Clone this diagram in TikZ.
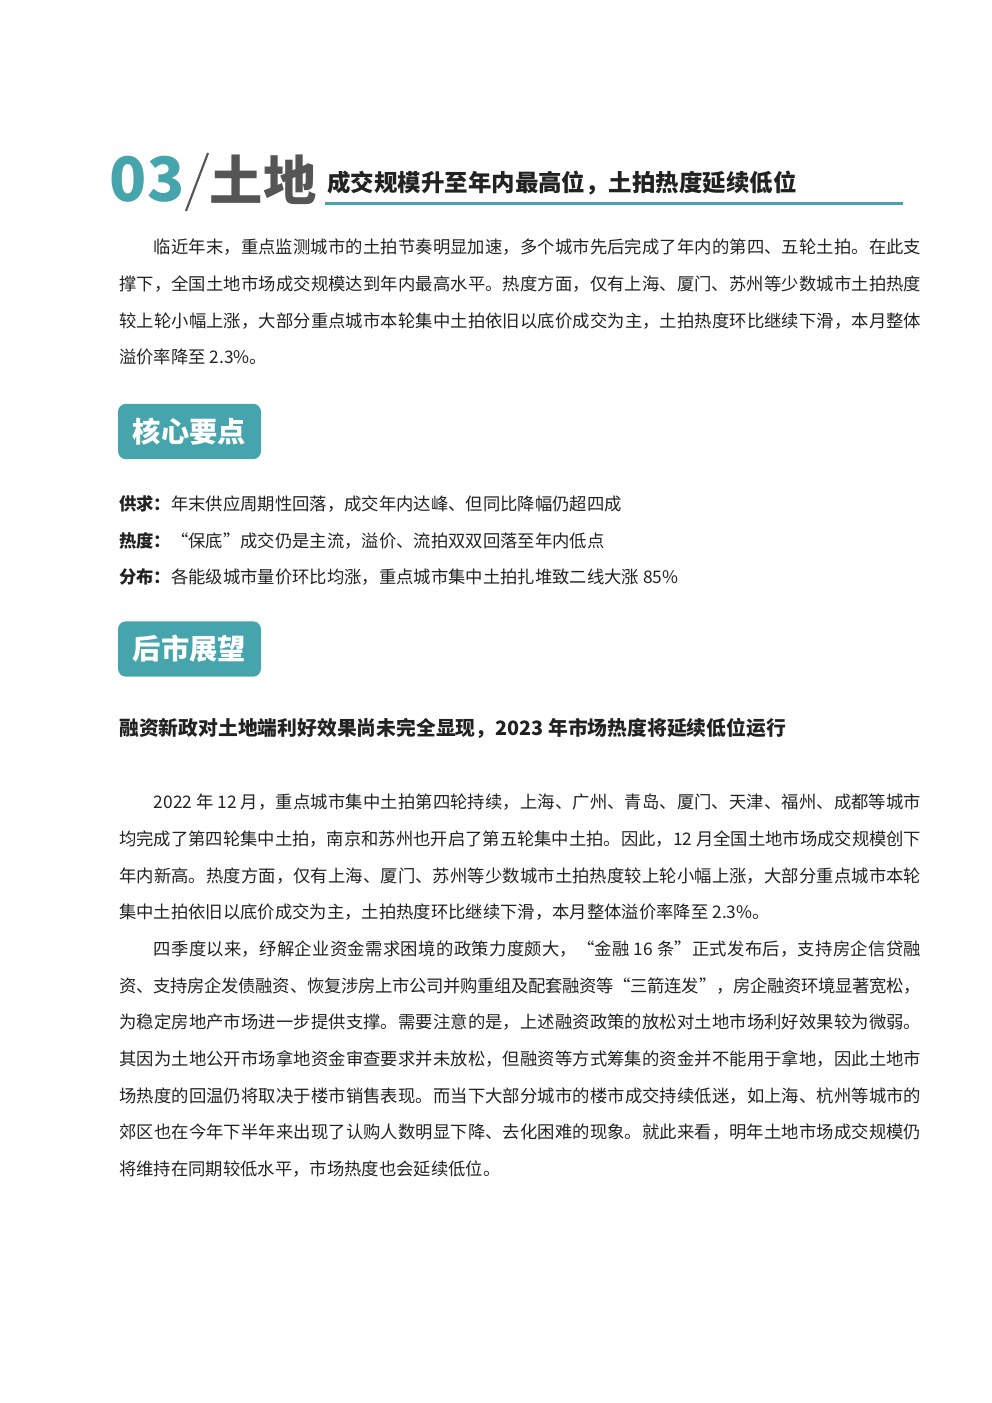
\documentclass[tikz,border=0pt]{standalone}
\usepackage{fontspec}
\setmainfont{Noto Sans CJK SC}
\XeTeXlinebreaklocale "zh"
\XeTeXlinebreakskip=0pt plus 2pt minus 0.3pt
\definecolor{tealmain}{HTML}{45A4AC}
\definecolor{grayhead}{HTML}{555555}
\definecolor{bodyink}{HTML}{222222}
\tikzset{
  para/.style={anchor=north west,inner sep=0pt,text width=601.5pt,align=justify,text=bodyink,
    font=\fontsize{13pt}{27.5pt}\selectfont},
  tag/.style={anchor=west,inner sep=0pt,text=bodyink,font=\fontsize{13pt}{16pt}\selectfont},
  badge/.style={fill=tealmain,rounded corners=6pt,minimum width=107.25pt,minimum height=41.5pt,
    inner sep=0pt,text=white,font=\fontsize{21.2pt}{24pt}\bfseries\selectfont},
}
\begin{document}
\begin{tikzpicture}[x=0.75pt,y=-0.75pt]
  \useasboundingbox (0,0) rectangle (992,1403);
  % title row
  \node [anchor=center,inner sep=0pt,text=tealmain,font=\fontsize{46pt}{46pt}\bfseries\selectfont] (num) at (147,179) {03};
  \coordinate (slasha) at (208,153);
  \coordinate (slashb) at (186,211);
  \draw [grayhead,line width=1.6pt] (slasha) -- (slashb);
  \node [anchor=center,inner sep=0pt,text=grayhead,font=\fontsize{40pt}{40pt}\bfseries\selectfont] (land) at (263,180) {土地};
  \node [anchor=west,inner sep=0pt,text=bodyink,font=\fontsize{17.6pt}{20pt}\bfseries\selectfont] (sub) at (327,183) {成交规模升至年内最高位，土拍热度延续低位};
  \coordinate (rulea) at (325,203.5);
  \coordinate (ruleb) at (903,203.5);
  \draw [tealmain,line width=2.25pt] (rulea) -- (ruleb);
  % intro
  \node [para] (intro) at (119,239) {\hspace*{26pt}临近年末，重点监测城市的土拍节奏明显加速，多个城市先后完成了年内的第四、五轮土拍。在此支\linebreak
    撑下，全国土地市场成交规模达到年内最高水平。热度方面，仅有上海、厦门、苏州等少数城市土拍热度\linebreak
    较上轮小幅上涨，大部分重点城市本轮集中土拍依旧以底价成交为主，土拍热度环比继续下滑，本月整体\linebreak
    溢价率降至 2.3\%。};
  % key points
  \node [badge] (core) at (189.5,431.5) {核心要点};
  \node [tag] (supply) at (119,504) {\textbf{供求：}年末供应周期性回落，成交年内达峰、但同比降幅仍超四成};
  \node [tag] (heat) at (119,541) {\textbf{热度：}“保底”成交仍是主流，溢价、流拍双双回落至年内低点};
  \node [tag] (spread) at (119,577) {\textbf{分布：}各能级城市量价环比均涨，重点城市集中土拍扎堆致二线大涨 85\%};
  % outlook
  \node [badge] (next) at (189.5,649) {后市展望};
  \node [anchor=west,inner sep=0pt,text=bodyink,font=\fontsize{14.85pt}{18pt}\bfseries\selectfont] (lead) at (119,728) {融资新政对土地端利好效果尚未完全显现，2023 年市场热度将延续低位运行};
  \node [para] (body) at (119,794) {\hspace*{26pt}2022 年 12 月，重点城市集中土拍第四轮持续，上海、广州、青岛、厦门、天津、福州、成都等城市\linebreak
    均完成了第四轮集中土拍，南京和苏州也开启了第五轮集中土拍。因此，12 月全国土地市场成交规模创下\linebreak
    年内新高。热度方面，仅有上海、厦门、苏州等少数城市土拍热度较上轮小幅上涨，大部分重点城市本轮\linebreak
    集中土拍依旧以底价成交为主，土拍热度环比继续下滑，本月整体溢价率降至 2.3\%。\par
    \hspace*{26pt}四季度以来，纾解企业资金需求困境的政策力度颇大，“金融 16 条”正式发布后，支持房企信贷融\linebreak
    资、支持房企发债融资、恢复涉房上市公司并购重组及配套融资等“三箭连发”，房企融资环境显著宽松，\linebreak
    为稳定房地产市场进一步提供支撑。需要注意的是，上述融资政策的放松对土地市场利好效果较为微弱。\linebreak
    其因为土地公开市场拿地资金审查要求并未放松，但融资等方式筹集的资金并不能用于拿地，因此土地市\linebreak
    场热度的回温仍将取决于楼市销售表现。而当下大部分城市的楼市成交持续低迷，如上海、杭州等城市的\linebreak
    郊区也在今年下半年来出现了认购人数明显下降、去化困难的现象。就此来看，明年土地市场成交规模仍\linebreak
    将维持在同期较低水平，市场热度也会延续低位。};
\end{tikzpicture}
\end{document}
